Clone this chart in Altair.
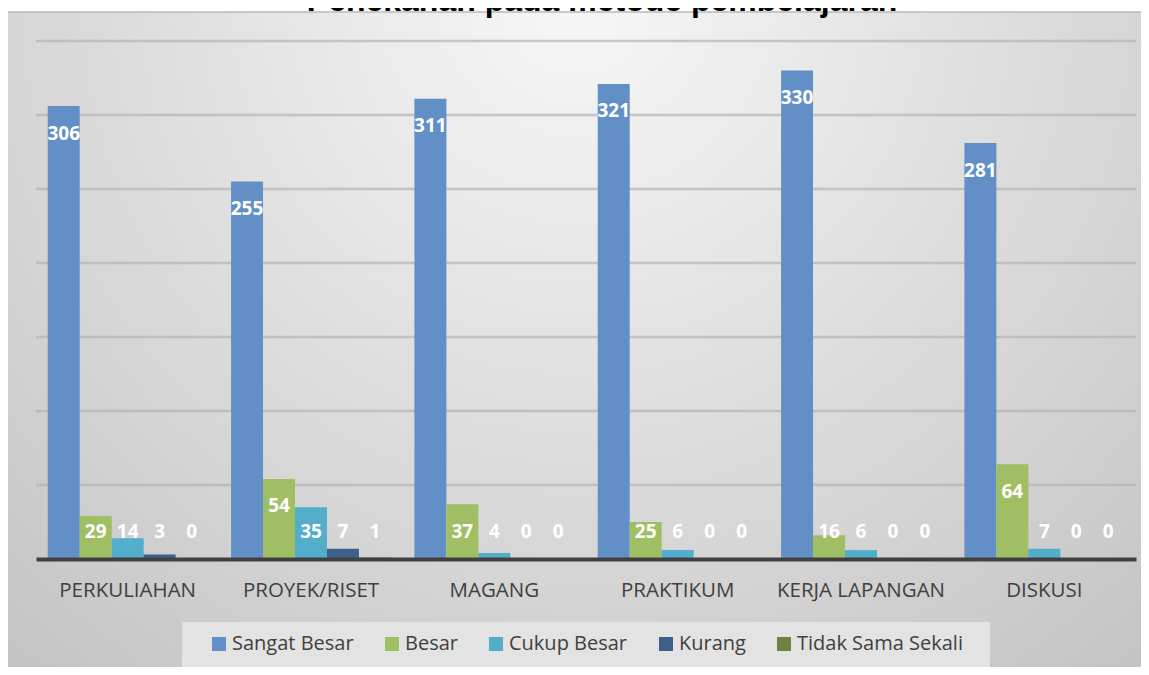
import altair as alt
import pandas as pd

categories = ["PERKULIAHAN", "PROYEK/RISET", "MAGANG", "PRAKTIKUM", "KERJA LAPANGAN", "DISKUSI"]
series = ["Sangat Besar", "Besar", "Cukup Besar", "Kurang", "Tidak Sama Sekali"]
sangat_besar = [306, 255, 311, 321, 330, 281]
besar = [29, 54, 37, 25, 16, 64]
cukup_besar = [14, 35, 4, 6, 6, 7]
kurang = [3, 7, 0, 0, 0, 0]
tidak_sama_sekali = [0, 1, 0, 0, 0, 0]
grid_values = [50, 100, 150, 200, 250, 300, 350]
colors = ["#6290C6", "#A0BF64", "#52AECA", "#3E5F8B", "#6E8541"]
title_text = "Penekanan pada metode pembelajaran"

rows = []
for s, vals in zip(series, [sangat_besar, besar, cukup_besar, kurang, tidak_sama_sekali]):
    for c, v in zip(categories, vals):
        rows.append({"category": c, "series": s, "value": v})
df = pd.DataFrame(rows)

W, H = 1100, 518
y_scale = alt.Scale(domain=[0, 350], nice=False, zero=True)

x_enc = alt.X("category:N", sort=categories, title=None,
              scale=alt.Scale(paddingInner=0.128, paddingOuter=0.064),
              axis=alt.Axis(labelAngle=0, labelFontSize=20.5, labelColor="#404040",
                            labelFont="Open Sans", labelPadding=21, ticks=False,
                            domainColor="#404040", domainWidth=4, zindex=1))
xo_enc = alt.XOffset("series:N", sort=series, scale=alt.Scale(paddingInner=0))
y_enc = alt.Y("value:Q", title=None, scale=y_scale, axis=None)

bg = alt.Chart(alt.Data(values=[{"a": 1}])).mark_rect(
    fill=alt.Gradient(gradient="radial",
                      stops=[alt.GradientStop(offset=0, color="#f7f7f7"),
                             alt.GradientStop(offset=1, color="#c3c3c3")],
                      x1=0.5, y1=0.2, r1=0, x2=0.5, y2=0.2, r2=0.78)
).encode(x=alt.value(-28), x2=alt.value(1110), y=alt.value(-29), y2=alt.value(626))

bg_edge = alt.Chart(alt.Data(values=[{"a": 1}])).mark_rule(
    color="#b8b8b8", strokeWidth=1.5
).encode(x=alt.value(-28), x2=alt.value(1110), y=alt.value(-29))

legend_box = alt.Chart(alt.Data(values=[{"a": 1}])).mark_rect(
    fill="#e3e3e3"
).encode(x=alt.value(146), x2=alt.value(954), y=alt.value(581), y2=alt.value(626))

grid = alt.Chart(pd.DataFrame({"g": grid_values})).mark_rule(
    color="#b4b4b4", strokeWidth=2.5, opacity=0.7
).encode(y=alt.Y("g:Q", scale=y_scale, axis=None))

title = alt.Chart(alt.Data(values=[{"t": title_text}])).mark_text(
    font="Liberation Sans", fontWeight="bold", fontSize=32, color="#000000",
    baseline="alphabetic", align="center"
).encode(text="t:N", x=alt.value(566), y=alt.value(-30))

bars = alt.Chart(df).mark_bar().encode(
    x=x_enc, xOffset=xo_enc, y=y_enc,
    color=alt.Color("series:N", sort=series,
                    scale=alt.Scale(domain=series, range=colors),
                    legend=alt.Legend(title=None, orient="none", direction="horizontal",
                                      columns=5, legendX=161, legendY=581,
                                      padding=12,
                                      symbolType="square", symbolSize=196,
                                      symbolStrokeWidth=0, symbolOffset=0,
                                      labelFont="Open Sans", labelFontSize=20,
                                      labelColor="#404040", labelOffset=3,
                                      columnPadding=28, labelLimit=300))
)

labels = alt.Chart(df).transform_calculate(
    ly="max(datum.value - 18.5, 18.5)"
).mark_text(font="Open Sans", fontWeight="bold", fontSize=19, color="white",
            baseline="middle", align="center").encode(
    x=alt.X("category:N", sort=categories),
    xOffset=alt.XOffset("series:N", sort=series),
    y=alt.Y("ly:Q", scale=y_scale, axis=None),
    text=alt.Text("value:Q")
)

chart = alt.layer(bg, bg_edge, legend_box, grid, bars, labels, title).properties(
    width=W, height=H,
    autosize=alt.AutoSizeParams(type="none"),
    padding={"left": 28, "top": 33, "right": 5, "bottom": 108}
).configure_view(stroke=None).configure(background="white")

chart.save("out.html", embed_options={"renderer": "svg", "actions": False})
